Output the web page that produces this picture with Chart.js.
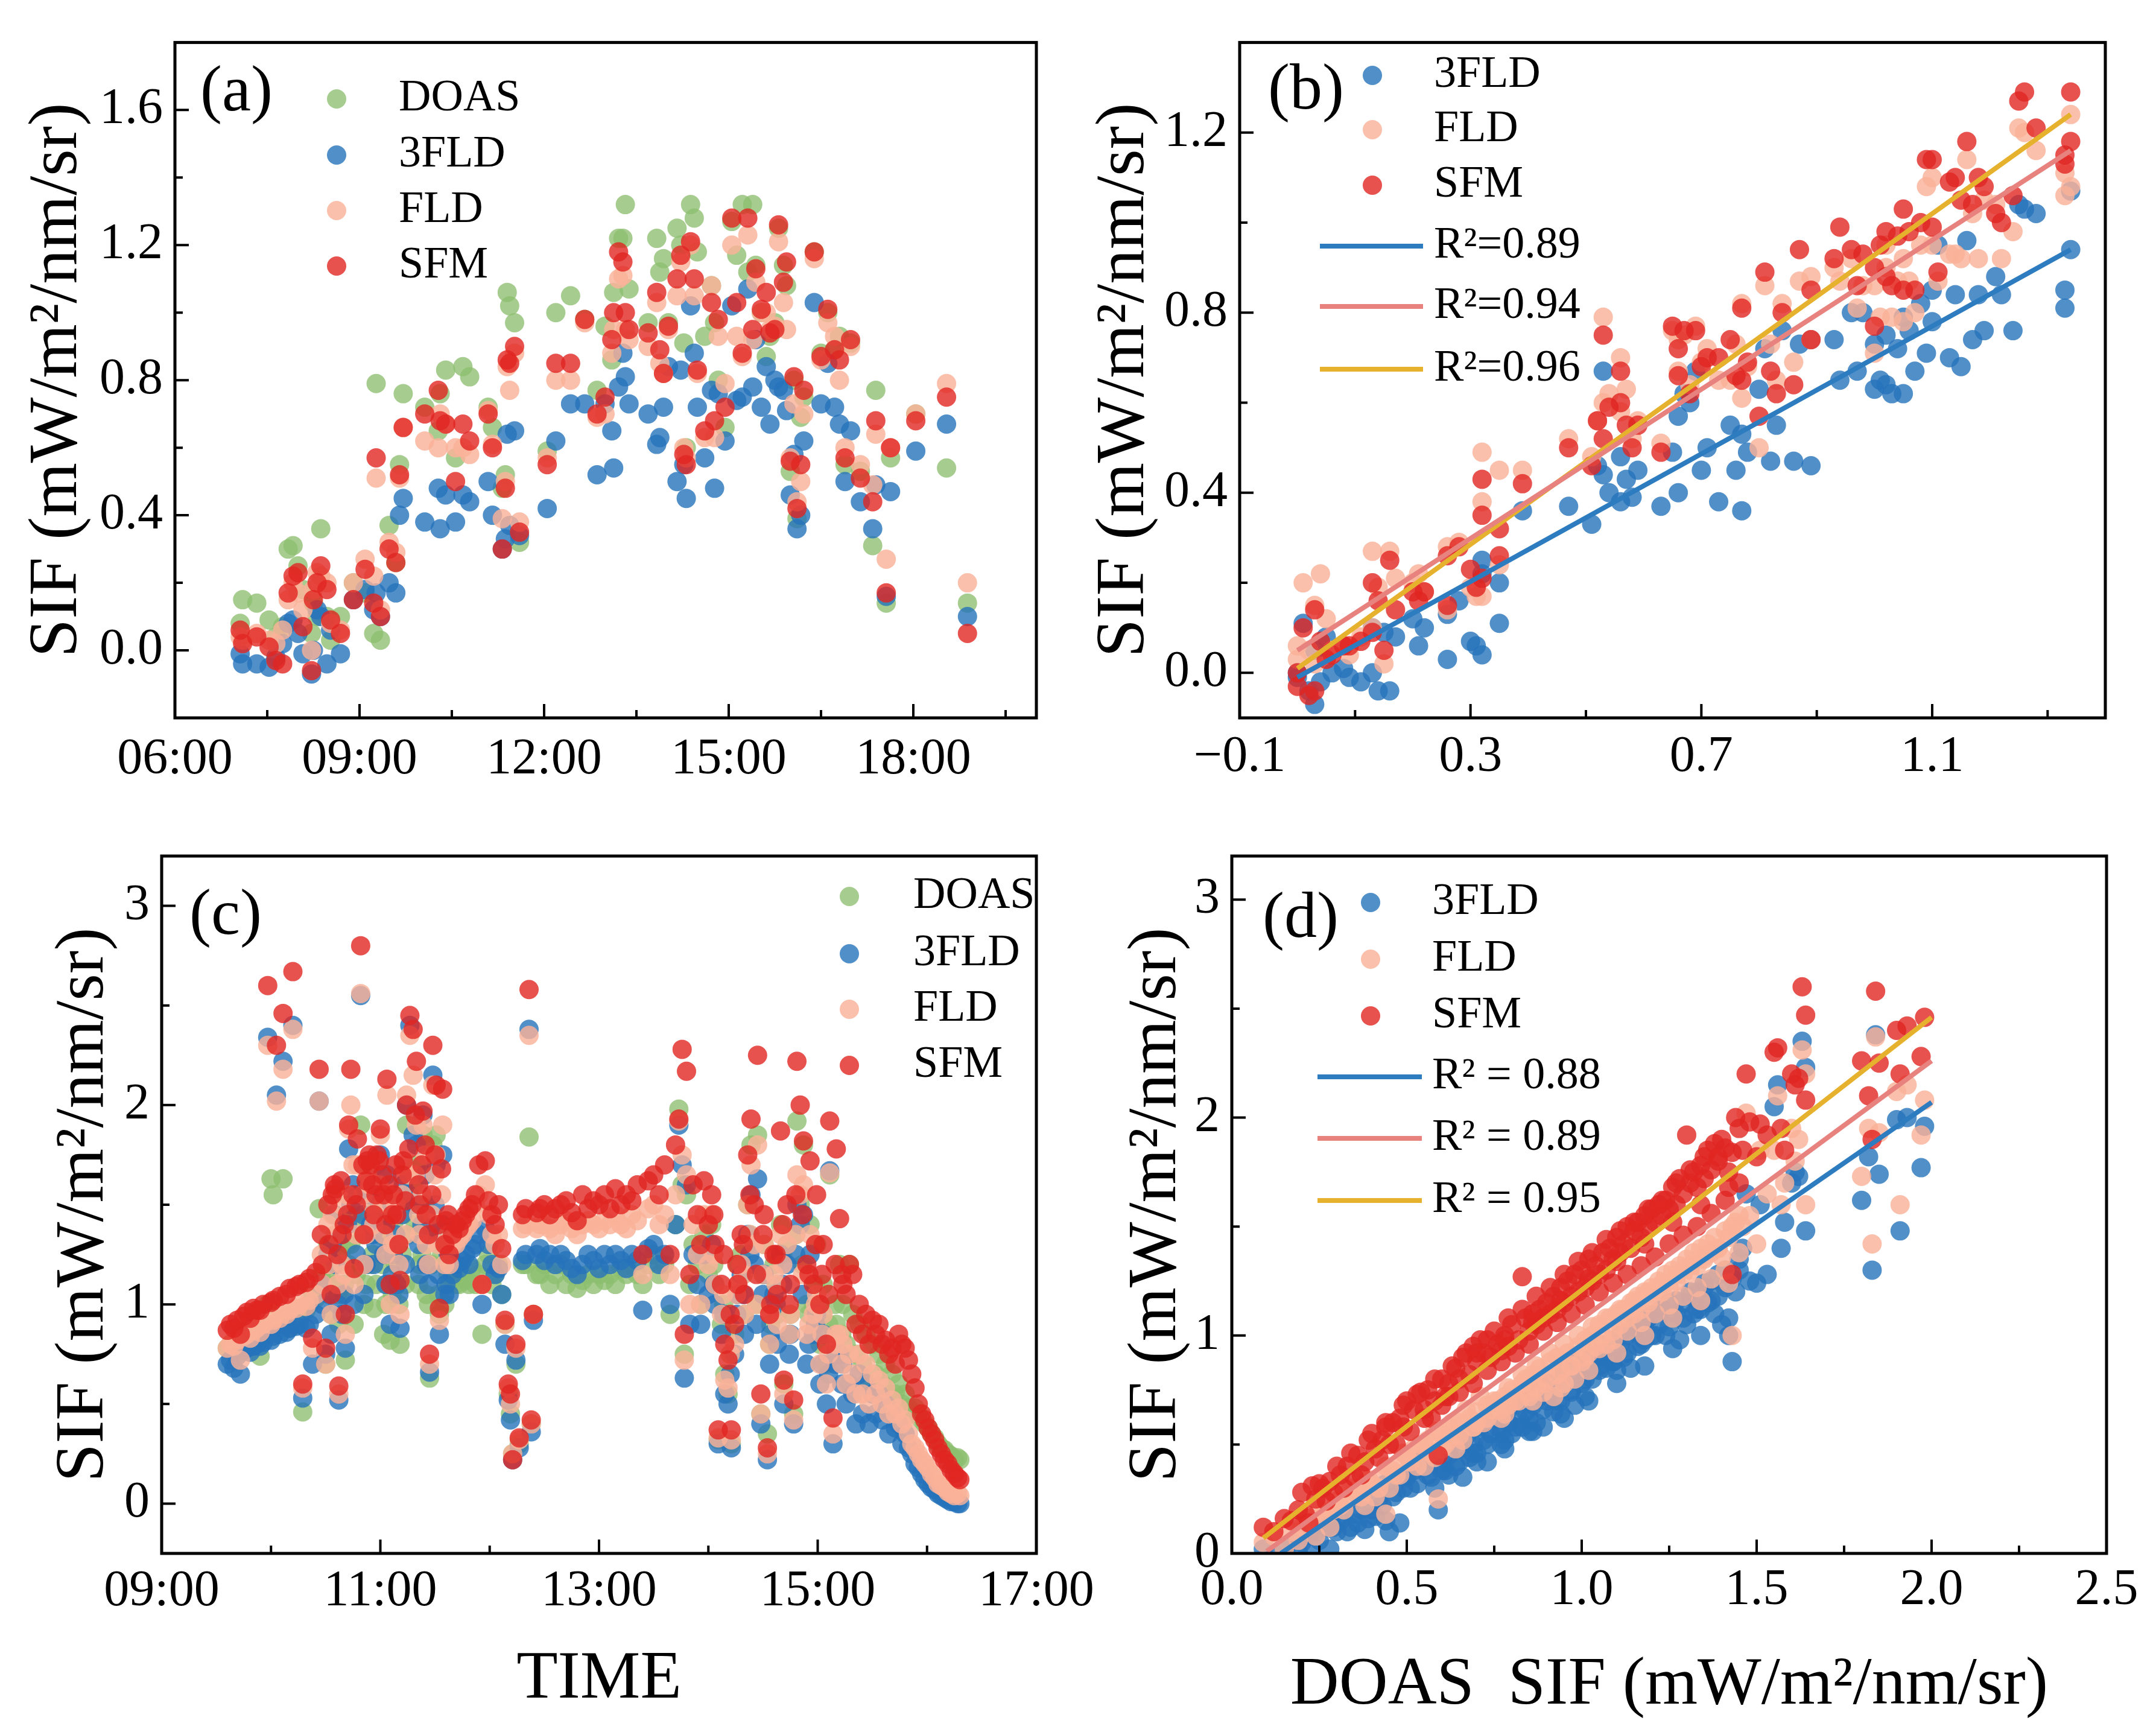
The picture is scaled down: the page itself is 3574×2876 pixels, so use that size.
<!DOCTYPE html>
<html lang="en">
<head>
<meta charset="utf-8">
<title>SIF retrieval comparison</title>
<script src="https://cdn.jsdelivr.net/npm/chart.js@4.4.1/dist/chart.umd.min.js"></script>
<style>
  html, body { margin: 0; padding: 0; background: #fff; }
  body { position: relative; width: 3574px; height: 2876px; overflow: hidden; }
  .panel { position: absolute; }
</style>
</head>
<body>
<div class="panel" style="left:0;top:0;width:1787px;height:1340px"><canvas id="chart-a"></canvas></div>
<div class="panel" style="left:1787px;top:0;width:1787px;height:1340px"><canvas id="chart-b"></canvas></div>
<div class="panel" style="left:0;top:1340px;width:1900px;height:1536px"><canvas id="chart-c"></canvas></div>
<div class="panel" style="left:1787px;top:1340px;width:1787px;height:1536px"><canvas id="chart-d"></canvas></div>
<script>
// (a) day 1 time series (decimal hours)
const timeA = [
  7.06, 7.10, 7.33, 7.53, 7.64, 7.75, 7.84, 7.92, 8.00, 8.08,
  8.22, 8.25, 8.31, 8.37, 8.47, 8.53, 8.69, 8.90, 9.09, 9.23,
  9.27, 9.34, 9.48, 9.59, 9.65, 9.71, 10.06, 10.28, 10.31, 10.40,
  10.56, 10.68, 10.79, 11.09, 11.16, 11.32, 11.37, 11.40, 11.44, 11.52,
  11.60, 12.05, 12.19, 12.43, 12.66, 12.86, 12.99, 13.10, 13.13, 13.21,
  13.28, 13.32, 13.38, 13.69, 13.83, 13.88, 13.94, 14.02, 14.16, 14.22,
  14.27, 14.31, 14.38, 14.44, 14.49, 14.61, 14.72, 14.77, 14.83, 14.94,
  15.05, 15.13, 15.22, 15.31, 15.39, 15.44, 15.53, 15.61, 15.67, 15.75,
  15.81, 15.89, 15.94, 16.00, 16.06, 16.11, 16.17, 16.22, 16.39, 16.50,
  16.61, 16.72, 16.80, 16.89, 16.98, 17.14, 17.34, 17.39, 17.56, 17.63,
  18.04, 18.54, 18.88
];
const doasA = [
  0.08, 0.15, 0.14, 0.09, 0.04, 0.07, 0.30, 0.31, 0.25, 0.18,
  0.05, 0.14, 0.10, 0.36, 0.10, 0.03, 0.10, 0.20, 0.17, 0.05,
  0.79, 0.03, 0.37, 0.26, 0.55, 0.76, 0.72, 0.65, 0.76, 0.83,
  0.57, 0.84, 0.81, 0.72, 0.66, 0.48, 0.52, 1.06, 1.02, 0.97,
  0.32, 0.59, 1.00, 1.05, 0.98, 0.77, 0.96, 0.86, 1.06, 1.22,
  1.22, 1.32, 1.07, 0.97, 1.22, 1.12, 1.16, 0.97, 1.25, 1.20,
  0.91, 0.60, 1.32, 1.28, 1.18, 0.93, 1.08, 0.97, 0.80, 0.66,
  1.27, 1.17, 1.32, 1.12, 1.32, 1.14, 1.00, 0.87, 0.93, 0.97,
  1.25, 1.14, 1.08, 0.53, 0.80, 0.39, 0.69, 0.75, 1.18, 0.88,
  1.00, 0.89, 0.93, 0.55, 0.91, 0.53, 0.31, 0.77, 0.14, 0.57,
  0.70, 0.54, 0.14
];
const fld3A = [
  -0.01, -0.04, -0.04, -0.05, -0.02, 0.02, 0.08, 0.09, 0.05, -0.01,
  -0.07, 0.00, 0.12, 0.10, -0.04, 0.06, -0.01, 0.15, 0.18, 0.12,
  0.17, 0.10, 0.20, 0.17, 0.40, 0.45, 0.38, 0.48, 0.36, 0.46,
  0.38, 0.46, 0.44, 0.50, 0.40, 0.30, 0.33, 0.64, 0.37, 0.65,
  0.34, 0.42, 0.62, 0.73, 0.73, 0.52, 0.73, 0.65, 0.54, 0.78,
  0.88, 0.81, 0.73, 0.70, 0.61, 0.63, 0.72, 0.84, 0.50, 0.83,
  0.55, 0.45, 1.02, 0.88, 0.72, 0.57, 0.77, 0.48, 0.76, 0.62,
  1.02, 0.74, 0.75, 1.07, 0.78, 0.92, 0.72, 0.84, 0.67, 0.80,
  0.78, 0.77, 0.71, 0.46, 0.58, 0.36, 0.40, 0.62, 1.03, 0.73,
  0.85, 0.72, 0.67, 0.50, 0.65, 0.44, 0.36, 0.49, 0.16, 0.47,
  0.59, 0.67, 0.10
];
const fldA = [
  0.04, 0.03, 0.05, 0.03, 0.02, 0.06, 0.15, 0.20, 0.17, 0.12,
  0.00, 0.18, 0.23, 0.22, 0.20, 0.08, 0.06, 0.20, 0.27, 0.22,
  0.51, 0.12, 0.32, 0.29, 0.51, 0.66, 0.62, 0.60, 0.70, 0.67,
  0.60, 0.60, 0.58, 0.71, 0.61, 0.39, 0.50, 0.84, 0.77, 0.88,
  0.38, 0.57, 0.80, 0.80, 0.97, 0.69, 0.70, 0.88, 0.95, 1.10,
  1.11, 0.95, 0.92, 0.90, 1.03, 0.85, 0.82, 0.95, 1.05, 1.15,
  0.60, 0.57, 1.20, 1.05, 0.82, 0.63, 1.08, 0.63, 0.93, 0.79,
  1.20, 0.93, 0.87, 1.23, 0.92, 1.09, 1.00, 1.00, 0.95, 0.96,
  1.21, 1.03, 0.95, 0.57, 0.73, 0.44, 0.50, 0.70, 1.16, 0.86,
  0.97, 0.93, 0.80, 0.60, 0.90, 0.55, 0.49, 0.64, 0.27, 0.60,
  0.70, 0.79, 0.20
];
const sfmA = [
  0.06, 0.02, 0.04, 0.01, -0.03, -0.04, 0.17, 0.22, 0.23, 0.07,
  -0.06, 0.15, 0.20, 0.25, 0.18, 0.09, 0.05, 0.15, 0.24, 0.14,
  0.57, 0.10, 0.30, 0.26, 0.52, 0.66, 0.70, 0.77, 0.68, 0.67,
  0.50, 0.67, 0.62, 0.70, 0.60, 0.30, 0.48, 0.86, 0.85, 0.90,
  0.35, 0.55, 0.85, 0.85, 0.98, 0.70, 0.75, 0.92, 1.00, 1.18,
  1.15, 1.00, 0.95, 0.94, 1.06, 0.89, 0.82, 0.96, 1.10, 1.17,
  0.58, 0.55, 1.21, 1.10, 0.83, 0.65, 1.03, 0.68, 0.98, 0.72,
  1.28, 1.03, 0.88, 1.28, 0.95, 1.13, 1.01, 1.06, 0.94, 0.95,
  1.26, 1.09, 1.15, 0.56, 0.81, 0.42, 0.55, 0.77, 1.18, 0.87,
  1.01, 0.89, 0.86, 0.57, 0.92, 0.51, 0.44, 0.68, 0.17, 0.60,
  0.68, 0.75, 0.05
];

// (b) day 1 scatter against DOAS
const doasB = [
  0.00, 0.00, 0.01, 0.02, 0.03, 0.03, 0.04, 0.05, 0.06, 0.08,
  0.09, 0.11, 0.13, 0.13, 0.14, 0.15, 0.16, 0.17, 0.20, 0.21,
  0.22, 0.26, 0.26, 0.28, 0.30, 0.31, 0.32, 0.32, 0.32, 0.35,
  0.35, 0.39, 0.47, 0.51, 0.52, 0.53, 0.53, 0.54, 0.56, 0.56,
  0.57, 0.58, 0.59, 0.63, 0.65, 0.66, 0.66, 0.67, 0.68, 0.69,
  0.70, 0.71, 0.73, 0.75, 0.76, 0.77, 0.77, 0.78, 0.80, 0.81,
  0.82, 0.83, 0.84, 0.86, 0.87, 0.89, 0.89, 0.93, 0.94, 0.96,
  0.97, 0.98, 1.00, 1.00, 1.01, 1.02, 1.02, 1.03, 1.04, 1.05,
  1.05, 1.06, 1.07, 1.08, 1.09, 1.10, 1.10, 1.11, 1.13, 1.14,
  1.15, 1.16, 1.17, 1.18, 1.19, 1.21, 1.22, 1.24, 1.25, 1.26,
  1.28, 1.33, 1.33, 1.34, 1.34
];
const fld3B = [
  -0.01, 0.00, 0.11, -0.04, -0.07, 0.05, -0.02, 0.08, 0.00, 0.01,
  -0.01, -0.02, 0.00, 0.10, -0.04, 0.09, -0.04, 0.08, 0.12, 0.06,
  0.10, 0.13, 0.03, 0.16, 0.07, 0.06, 0.04, 0.22, 0.25, 0.20,
  0.11, 0.36, 0.37, 0.33, 0.46, 0.67, 0.44, 0.40, 0.48, 0.38,
  0.43, 0.39, 0.45, 0.37, 0.49, 0.40, 0.57, 0.62, 0.60, 0.67,
  0.45, 0.50, 0.38, 0.55, 0.45, 0.53, 0.36, 0.49, 0.63, 0.72,
  0.47, 0.55, 0.76, 0.47, 0.73, 0.46, 0.74, 0.74, 0.65, 0.80,
  0.67, 0.80, 0.63, 0.73, 0.65, 0.64, 0.75, 0.62, 0.72, 0.79,
  0.62, 0.76, 0.67, 0.82, 0.71, 0.78, 0.85, 0.95, 0.70, 0.84,
  0.68, 0.96, 0.74, 0.84, 0.76, 0.88, 0.84, 0.76, 1.04, 1.03,
  1.02, 0.81, 0.85, 0.94, 1.07
];
const fldB = [
  0.03, 0.06, 0.20, 0.05, 0.02, 0.15, 0.22, 0.12, 0.05, 0.06,
  0.04, 0.08, 0.10, 0.27, 0.19, 0.02, 0.27, 0.21, 0.20, 0.22,
  0.18, 0.28, 0.14, 0.29, 0.19, 0.17, 0.49, 0.38, 0.17, 0.45,
  0.24, 0.45, 0.52, 0.48, 0.56, 0.79, 0.60, 0.62, 0.70, 0.58,
  0.63, 0.52, 0.56, 0.51, 0.76, 0.74, 0.67, 0.75, 0.64, 0.77,
  0.69, 0.72, 0.65, 0.65, 0.73, 0.82, 0.61, 0.68, 0.50, 0.86,
  0.73, 0.65, 0.82, 0.69, 0.87, 0.74, 0.88, 0.90, 0.87, 0.92,
  0.81, 0.86, 0.71, 0.86, 0.79, 0.95, 0.90, 0.79, 0.87, 0.92,
  0.78, 0.87, 0.80, 0.95, 1.08, 1.10, 0.95, 0.87, 0.93, 0.93,
  0.92, 1.14, 1.02, 0.92, 1.05, 1.04, 0.92, 0.98, 1.21, 1.20,
  1.16, 1.06, 1.11, 1.24, 1.08
];
const sfmB = [
  0.00, -0.03, 0.10, -0.05, -0.04, 0.14, 0.07, 0.03, 0.04, 0.06,
  0.06, 0.07, 0.09, 0.20, 0.16, 0.05, 0.25, 0.14, 0.18, 0.16,
  0.18, 0.26, 0.15, 0.28, 0.23, 0.19, 0.35, 0.43, 0.21, 0.26,
  0.32, 0.42, 0.50, 0.46, 0.56, 0.75, 0.52, 0.59, 0.67, 0.60,
  0.55, 0.50, 0.55, 0.49, 0.77, 0.72, 0.66, 0.76, 0.62, 0.76,
  0.68, 0.70, 0.70, 0.74, 0.66, 0.81, 0.65, 0.69, 0.57, 0.89,
  0.67, 0.62, 0.80, 0.64, 0.94, 0.74, 0.85, 0.92, 0.99, 0.94,
  0.86, 0.93, 0.77, 0.90, 0.95, 0.98, 0.88, 0.86, 0.97, 1.03,
  0.85, 0.98, 0.85, 1.00, 1.14, 1.14, 0.99, 0.89, 1.09, 1.10,
  1.05, 1.18, 1.04, 1.10, 1.08, 1.02, 1.00, 1.06, 1.27, 1.29,
  1.21, 1.13, 1.15, 1.29, 1.18
];
// fitted lines (end points) and R²
const fitXB = [0.0, 1.34];
const fit3FLDB = [-0.01, 0.94];
const fitFLDB = [0.05, 1.16];
const fitSFMB = [0.01, 1.24];
const r2B = ['R²=0.89', 'R²=0.94', 'R²=0.96'];

// (c) day 2 time series
const timeC = [
  9.60, 9.63, 9.66, 9.69, 9.72, 9.75, 9.78, 9.81, 9.84, 9.87,
  9.90, 9.93, 9.97, 10.00, 10.02, 10.05, 10.08, 10.11, 10.14, 10.17,
  10.20, 10.23, 10.26, 10.29, 10.32, 10.35, 10.38, 10.41, 10.44, 10.47,
  10.50, 10.53, 10.56, 10.59, 10.62, 10.65, 10.68, 10.71, 10.73, 10.76,
  10.79, 10.82, 10.85, 10.88, 10.91, 10.94, 10.97, 11.00, 11.03, 11.06,
  11.09, 11.12, 11.15, 11.18, 11.21, 11.24, 11.27, 11.30, 11.33, 11.36,
  11.39, 11.42, 11.45, 11.48, 11.51, 11.54, 11.57, 11.60, 11.63, 11.66,
  11.69, 11.72, 11.75, 11.78, 11.81, 11.84, 11.87, 11.90, 11.93, 11.96,
  11.99, 12.02, 12.05, 12.08, 12.11, 12.14, 12.17, 12.19, 12.21, 12.24,
  12.27, 12.30, 12.33, 12.36, 12.38, 12.40, 12.43, 12.46, 12.50, 12.55,
  12.60, 12.65, 12.70, 12.75, 12.80, 12.85, 12.90, 12.95, 13.00, 13.05,
  13.10, 13.15, 13.20, 13.25, 13.30, 13.35, 13.40, 13.45, 13.50, 13.55,
  13.60, 13.65, 13.70, 13.73, 13.76, 13.78, 13.80, 13.83, 13.86, 13.90,
  13.93, 13.96, 14.00, 14.03, 14.06, 14.09, 14.12, 14.15, 14.18, 14.21,
  14.24, 14.27, 14.30, 14.33, 14.36, 14.39, 14.42, 14.45, 14.48, 14.51,
  14.54, 14.57, 14.60, 14.63, 14.66, 14.69, 14.72, 14.75, 14.78, 14.81,
  14.84, 14.87, 14.90, 14.93, 14.96, 14.99, 15.02, 15.05, 15.08, 15.11,
  15.14, 15.17, 15.20, 15.23, 15.26, 15.29, 15.32, 15.35, 15.38, 15.41,
  15.44, 15.47, 15.50, 15.53, 15.56, 15.59, 15.62, 15.65, 15.68, 15.71,
  15.74, 15.77, 15.80, 15.83, 15.86, 15.89, 15.92, 15.95, 15.98, 16.01,
  16.04, 16.07, 16.10, 16.13, 16.16, 16.19, 16.22, 16.25, 16.28, 16.30,
  10.46, 10.52, 10.55, 10.58, 10.61, 10.64, 10.67, 10.70, 10.75, 10.78,
  10.84, 10.87, 10.90, 10.93, 10.96, 10.99, 11.02, 11.05, 11.08, 11.11,
  11.14, 11.17, 11.20, 11.23, 11.26, 11.32, 11.35, 11.38, 11.41, 11.44,
  11.47, 11.50, 11.53, 11.56, 11.59, 11.62, 14.05, 14.14, 14.20, 14.26,
  14.32, 14.38, 14.44, 14.50, 14.56, 14.62, 14.68, 14.74, 14.80, 14.86,
  14.92, 14.98, 15.04, 15.10, 15.16, 15.22
];
const doasC = [
  0.78, 0.80, 0.79, 0.82, 0.76, 0.84, 0.86, 0.83, 0.88, 0.85,
  0.74, 0.87, 1.00, 1.63, 1.55, 0.90, 0.92, 1.63, 0.93, 0.88,
  0.95, 0.96, 0.98, 0.46, 0.97, 1.00, 1.05, 1.03, 1.48, 1.10,
  0.70, 1.15, 1.20, 1.10, 0.90, 1.05, 0.72, 1.20, 1.30, 0.90,
  1.40, 1.90, 1.00, 1.60, 1.20, 0.98, 1.50, 1.55, 0.85, 1.10,
  0.82, 1.40, 1.30, 0.80, 1.45, 1.90, 1.50, 1.60, 1.70, 1.20,
  1.85, 1.05, 0.63, 1.80, 1.85, 0.95, 1.40, 1.20, 1.10, 1.15,
  1.10, 1.10, 1.15, 1.12, 1.10, 1.18, 1.10, 1.15, 0.85, 1.20,
  1.25, 1.10, 1.15, 1.20, 1.05, 0.90, 0.55, 0.45, 0.25, 0.70,
  0.30, 1.20, 1.20, 1.84, 0.40, 0.95, 1.15, 1.15, 1.20, 1.10,
  1.15, 1.20, 1.10, 1.15, 1.08, 1.12, 1.15, 1.10, 1.15, 1.12,
  1.15, 1.10, 1.18, 1.15, 1.20, 1.15, 1.10, 1.20, 1.25, 1.15,
  1.20, 0.95, 1.40, 1.98, 1.60, 0.75, 1.55, 1.10, 1.30, 1.20,
  1.00, 1.35, 1.15, 1.40, 1.10, 0.32, 0.90, 0.65, 0.55, 0.30,
  0.85, 1.20, 1.25, 0.95, 1.50, 1.80, 1.30, 1.85, 0.45, 1.30,
  0.35, 0.90, 1.20, 0.95, 1.40, 0.60, 1.30, 0.95, 0.45, 1.92,
  1.50, 1.80, 1.00, 1.40, 1.00, 1.30, 0.80, 1.10, 0.70, 1.65,
  0.85, 0.90, 1.20, 1.00, 0.80, 1.20, 0.95, 0.75, 0.90, 0.70,
  0.85, 0.60, 0.80, 0.65, 0.75, 0.60, 0.70, 0.55, 0.65, 0.55,
  0.60, 0.50, 0.55, 0.48, 0.45, 0.48, 0.45, 0.42, 0.40, 0.38,
  0.35, 0.33, 0.30, 0.28, 0.27, 0.25, 0.24, 0.22, 0.23, 0.22,
  1.15, 1.30, 0.95, 1.45, 1.05, 1.25, 1.10, 1.30, 1.45, 1.15,
  1.35, 1.10, 1.45, 1.25, 1.10, 1.35, 1.20, 1.00, 1.30, 1.05,
  1.20, 1.00, 1.25, 1.10, 1.35, 1.40, 1.10, 1.25, 1.50, 1.00,
  1.20, 1.35, 1.05, 1.25, 1.00, 1.15, 1.20, 1.00, 0.75, 1.05,
  1.15, 1.35, 1.00, 1.15, 0.80, 1.10, 1.25, 0.85, 1.35, 1.20,
  0.95, 1.10, 0.95, 0.90, 1.00, 0.85
];
const fld3C = [
  0.70, 0.72, 0.68, 0.74, 0.65, 0.77, 0.78, 0.76, 0.79, 0.80,
  0.79, 0.81, 2.34, 0.82, 0.84, 2.05, 0.85, 2.22, 0.86, 0.88,
  2.40, 0.89, 0.90, 0.53, 0.88, 0.90, 0.70, 0.95, 2.02, 1.00,
  0.75, 1.05, 1.30, 1.20, 0.52, 0.95, 0.78, 1.78, 1.50, 1.00,
  1.55, 2.55, 1.05, 1.55, 1.40, 1.20, 1.70, 1.75, 1.25, 1.65,
  0.90, 1.25, 1.10, 0.88, 1.60, 2.00, 2.40, 1.85, 1.80, 1.15,
  1.95, 1.20, 0.66, 2.15, 1.70, 0.85, 1.75, 1.10, 1.05, 1.15,
  1.20, 1.18, 1.22, 1.25, 1.20, 1.28, 1.30, 1.35, 1.00, 1.38,
  1.30, 1.20, 1.15, 1.18, 1.05, 0.80, 0.52, 0.42, 0.22, 0.72,
  0.28, 1.22, 1.25, 2.38, 0.36, 0.92, 1.25, 1.28, 1.22, 1.25,
  1.20, 1.25, 1.22, 1.18, 1.15, 1.20, 1.25, 1.22, 1.18, 1.25,
  1.20, 1.25, 1.22, 1.18, 1.25, 1.22, 0.97, 1.28, 1.30, 1.20,
  1.25, 1.00, 1.40, 1.90, 1.70, 0.63, 1.60, 0.90, 1.25, 1.10,
  0.90, 1.25, 1.05, 1.30, 1.00, 0.30, 0.85, 0.55, 0.50, 0.28,
  0.75, 1.05, 1.15, 0.85, 1.35, 1.55, 1.20, 1.63, 0.40, 1.15,
  0.22, 0.85, 1.05, 0.80, 1.25, 0.50, 1.20, 0.85, 0.40, 1.50,
  1.40, 1.45, 0.70, 1.25, 0.85, 0.95, 0.60, 0.85, 0.50, 1.67,
  0.30, 0.75, 0.75, 0.70, 0.50, 0.60, 0.55, 0.40, 0.65, 0.45,
  0.60, 0.40, 0.55, 0.45, 0.55, 0.42, 0.50, 0.35, 0.45, 0.38,
  0.40, 0.30, 0.35, 0.28, 0.25, 0.20, 0.18, 0.15, 0.12, 0.10,
  0.08, 0.07, 0.05, 0.04, 0.03, 0.02, 0.01, 0.01, 0.00, 0.00,
  1.10, 1.25, 0.85, 1.45, 1.00, 1.35, 1.05, 1.40, 1.60, 1.25,
  1.45, 1.20, 1.55, 1.35, 1.30, 1.50, 1.40, 1.10, 1.45, 1.15,
  1.35, 1.05, 1.45, 1.20, 1.55, 1.50, 1.30, 1.40, 1.65, 1.10,
  1.35, 1.50, 1.15, 1.40, 1.05, 1.25, 1.10, 0.95, 0.65, 0.95,
  1.05, 1.25, 0.90, 1.05, 0.70, 1.00, 1.10, 0.75, 1.25, 1.05,
  0.80, 0.90, 0.70, 0.65, 0.70, 0.60
];
const fldC = [
  0.78, 0.80, 0.79, 0.82, 0.72, 0.84, 0.85, 0.83, 0.87, 0.88,
  0.86, 0.90, 2.30, 0.90, 0.92, 2.02, 0.93, 2.18, 0.95, 0.97,
  2.38, 0.98, 1.00, 0.58, 0.99, 1.02, 0.78, 1.05, 2.02, 1.10,
  0.70, 1.20, 1.45, 1.35, 0.55, 1.20, 0.85, 1.88, 2.00, 1.10,
  1.70, 2.56, 1.20, 1.65, 1.60, 1.40, 1.72, 1.85, 1.35, 2.05,
  1.00, 1.45, 1.30, 0.95, 1.70, 2.05, 2.35, 2.15, 1.90, 1.35,
  1.90, 1.30, 0.70, 2.10, 1.75, 0.92, 1.90, 1.30, 1.20, 1.30,
  1.30, 1.33, 1.35, 1.38, 1.40, 1.42, 1.50, 1.55, 1.10, 1.60,
  1.45, 1.35, 1.30, 1.35, 1.20, 0.90, 0.58, 0.50, 0.25, 0.78,
  0.32, 1.38, 1.40, 2.35, 0.40, 0.95, 1.38, 1.40, 1.40, 1.38,
  1.35, 1.40, 1.42, 1.38, 1.35, 1.40, 1.42, 1.40, 1.38, 1.42,
  1.40, 1.45, 1.40, 1.38, 1.45, 1.42, 1.15, 1.48, 1.50, 1.40,
  1.45, 1.15, 1.55, 1.92, 1.75, 0.72, 1.65, 1.00, 1.40, 1.25,
  1.00, 1.45, 1.20, 1.45, 1.10, 0.33, 0.95, 0.62, 0.58, 0.32,
  0.80, 1.10, 1.20, 0.95, 1.50, 1.70, 1.30, 1.80, 0.45, 1.30,
  0.25, 0.95, 1.15, 0.90, 1.35, 0.55, 1.30, 0.95, 0.42, 1.65,
  1.55, 1.60, 0.85, 1.35, 0.95, 1.05, 0.70, 0.95, 0.60, 1.66,
  0.35, 0.85, 0.85, 0.80, 0.60, 0.75, 0.65, 0.55, 0.75, 0.55,
  0.70, 0.50, 0.65, 0.55, 0.62, 0.50, 0.58, 0.45, 0.52, 0.45,
  0.48, 0.40, 0.42, 0.35, 0.30, 0.28, 0.25, 0.22, 0.20, 0.18,
  0.15, 0.13, 0.10, 0.09, 0.08, 0.06, 0.05, 0.04, 0.05, 0.04,
  1.25, 1.40, 0.95, 1.55, 1.10, 1.50, 1.15, 1.55, 1.70, 1.35,
  1.55, 1.35, 1.60, 1.50, 1.45, 1.60, 1.50, 1.25, 1.55, 1.30,
  1.50, 1.20, 1.55, 1.35, 1.65, 1.65, 1.45, 1.55, 1.75, 1.20,
  1.45, 1.65, 1.30, 1.55, 1.20, 1.35, 1.25, 1.05, 0.75, 1.05,
  1.15, 1.35, 1.00, 1.15, 0.80, 1.10, 1.20, 0.85, 1.35, 1.15,
  0.90, 1.00, 0.85, 0.75, 0.80, 0.70
];
const sfmC = [
  0.87, 0.90, 0.88, 0.92, 0.85, 0.94, 0.96, 0.93, 0.98, 0.97,
  0.97, 1.00, 2.60, 1.01, 1.02, 2.30, 1.04, 2.46, 1.05, 1.08,
  2.67, 1.09, 1.10, 0.60, 1.11, 1.13, 0.83, 1.16, 2.18, 1.20,
  0.78, 1.30, 1.55, 1.58, 0.59, 1.35, 0.95, 1.90, 2.18, 1.18,
  1.83, 2.80, 1.35, 1.72, 1.70, 1.45, 1.75, 1.88, 1.55, 2.13,
  1.10, 1.55, 1.45, 1.12, 1.72, 2.00, 2.45, 2.38, 2.22, 1.50,
  1.97, 1.45, 0.75, 2.30, 2.10, 0.98, 2.08, 1.42, 1.25, 1.35,
  1.40, 1.38, 1.42, 1.45, 1.48, 1.50, 1.55, 1.70, 1.10, 1.72,
  1.52, 1.45, 1.40, 1.50, 1.28, 0.92, 0.60, 0.55, 0.22, 0.80,
  0.33, 1.45, 1.48, 2.58, 0.42, 0.95, 1.46, 1.48, 1.50, 1.45,
  1.48, 1.50, 1.52, 1.46, 1.42, 1.55, 1.48, 1.52, 1.50, 1.55,
  1.48, 1.58, 1.50, 1.55, 1.52, 1.60, 1.25, 1.62, 1.65, 1.55,
  1.70, 1.25, 1.80, 1.93, 2.28, 0.85, 2.17, 1.15, 1.60, 1.45,
  1.30, 1.62, 1.40, 1.55, 1.30, 0.37, 1.10, 0.80, 0.72, 0.37,
  0.90, 1.10, 1.35, 1.05, 1.75, 1.93, 1.50, 2.25, 0.55, 1.45,
  0.28, 1.00, 1.25, 1.05, 1.87, 0.62, 1.50, 1.10, 0.52, 2.22,
  2.00, 1.82, 1.20, 1.72, 1.10, 1.55, 1.00, 1.30, 0.80, 1.92,
  0.43, 1.78, 1.43, 1.10, 1.05, 1.20, 1.15, 0.90, 1.00, 0.85,
  0.95, 0.80, 0.92, 0.85, 0.90, 0.80, 0.82, 0.75, 0.78, 0.70,
  0.85, 0.80, 0.78, 0.72, 0.65, 0.58, 0.50, 0.45, 0.42, 0.38,
  0.35, 0.32, 0.28, 0.25, 0.22, 0.20, 0.17, 0.15, 0.13, 0.12,
  1.35, 1.50, 1.05, 1.60, 1.25, 1.62, 1.40, 1.45, 1.55, 1.50,
  1.70, 1.62, 1.75, 1.60, 1.55, 1.72, 1.65, 1.40, 1.60, 1.45,
  1.70, 1.30, 1.65, 1.52, 1.78, 1.95, 1.60, 1.70, 1.80, 1.35,
  1.55, 1.75, 1.40, 1.68, 1.30, 1.45, 1.45, 1.25, 0.95, 1.20,
  1.30, 1.55, 1.15, 1.35, 0.95, 1.25, 1.40, 1.00, 1.55, 1.45,
  1.15, 1.30, 1.15, 1.05, 1.20, 1.15
];

// (d) day 2 scatter against DOAS
const doasD = [
  0.09, 0.12, 0.15, 0.17, 0.19, 0.21, 0.23, 0.24, 0.26, 0.28,
  0.29, 0.31, 0.33, 0.35, 0.36, 0.38, 0.40, 0.41, 0.43, 0.44,
  0.45, 0.46, 0.48, 0.49, 0.50, 0.52, 0.53, 0.55, 0.56, 0.58,
  0.59, 0.60, 0.61, 0.62, 0.64, 0.65, 0.66, 0.68, 0.69, 0.70,
  0.72, 0.73, 0.74, 0.76, 0.77, 0.78, 0.79, 0.80, 0.82, 0.83,
  0.84, 0.85, 0.86, 0.87, 0.88, 0.89, 0.90, 0.91, 0.92, 0.93,
  0.94, 0.95, 0.96, 0.97, 0.98, 0.99, 1.00, 1.01, 1.02, 1.03,
  1.04, 1.05, 1.06, 1.07, 1.08, 1.09, 1.10, 1.11, 1.12, 1.13,
  1.14, 1.15, 1.16, 1.17, 1.18, 1.19, 1.20, 1.21, 1.22, 1.23,
  1.24, 1.25, 1.26, 1.27, 1.28, 1.29, 1.30, 1.31, 1.32, 1.33,
  1.34, 1.35, 1.36, 1.37, 1.38, 1.39, 1.40, 1.41, 1.42, 1.43,
  1.44, 1.45, 1.46, 1.47, 1.48, 1.50, 1.51, 1.53, 1.55, 1.56,
  1.57, 1.58, 1.60, 1.61, 1.62, 1.63, 1.64, 1.64, 1.80, 1.82,
  1.83, 1.84, 1.85, 1.90, 1.91, 1.93, 1.97, 1.98,
  0.20, 0.22, 0.25, 0.27, 0.30, 0.32, 0.34, 0.37, 0.39, 0.42,
  0.44, 0.47, 0.49, 0.51, 0.54, 0.57, 0.58, 0.60, 0.63, 0.65,
  0.67, 0.69, 0.71, 0.73, 0.75, 0.77, 0.79, 0.81, 0.83, 0.85,
  0.87, 0.89, 0.91, 0.93, 0.95, 0.97, 0.99, 1.01, 1.03, 1.05,
  1.07, 1.09, 1.11, 1.13, 1.15, 1.17, 1.19, 1.21, 1.23, 1.25,
  1.27, 1.29, 1.31, 1.33, 1.35, 1.37, 1.39, 1.41, 1.43, 1.45,
  0.55, 0.62, 0.70, 0.78, 0.86, 0.94, 1.02, 1.10, 1.18, 1.26,
  1.34, 1.42
];
const fld3D = [
  0.02, 0.00, 0.03, 0.05, 0.01, 0.08, 0.03, 0.10, 0.14, 0.02,
  0.12, 0.15, 0.10, 0.18, 0.14, 0.11, 0.20, 0.17, 0.22, 0.15,
  0.10, 0.26, 0.14, 0.30, 0.35, 0.38, 0.32, 0.40, 0.36, 0.30,
  0.20, 0.42, 0.38, 0.45, 0.40, 0.48, 0.35, 0.44, 0.50, 0.46,
  0.52, 0.42, 0.55, 0.58, 0.50, 0.52, 0.60, 0.55, 0.62, 0.58,
  0.65, 0.56, 0.68, 0.60, 0.72, 0.58, 0.70, 0.74, 0.65, 0.78,
  0.70, 0.62, 0.80, 0.75, 0.68, 0.82, 0.78, 0.72, 0.85, 0.80,
  0.90, 0.86, 0.92, 0.85, 0.95, 0.88, 0.84, 0.96, 0.90, 1.00,
  0.85, 1.02, 0.95, 1.05, 0.98, 1.08, 1.00, 1.10, 1.05, 1.12,
  1.00, 1.15, 1.08, 1.10, 0.98, 1.15, 1.05, 1.18, 1.10, 1.20,
  1.12, 1.22, 1.15, 1.25, 1.10, 1.28, 1.05, 1.30, 1.00, 0.88,
  1.20, 1.35, 1.40, 1.65, 1.25, 1.24, 1.60, 1.28, 2.05, 2.15,
  1.40, 1.52, 1.70, 1.75, 1.73, 2.35, 2.23, 1.48, 1.62, 1.82,
  1.30, 2.38, 1.74, 1.99, 1.48, 2.00, 1.77, 1.96,
  0.05, 0.09, 0.06, 0.12, 0.10, 0.18, 0.12, 0.20, 0.16, 0.25,
  0.32, 0.28, 0.36, 0.30, 0.40, 0.35, 0.45, 0.38, 0.50, 0.42,
  0.54, 0.46, 0.58, 0.50, 0.62, 0.55, 0.66, 0.58, 0.70, 0.62,
  0.74, 0.66, 0.78, 0.70, 0.84, 0.74, 0.88, 0.80, 0.92, 0.84,
  0.96, 0.88, 1.00, 0.92, 1.04, 0.96, 1.08, 1.00, 1.12, 1.04,
  1.16, 1.08, 1.20, 1.12, 1.24, 1.16, 1.18, 1.22, 1.26, 1.30,
  0.44, 0.36, 0.42, 0.48, 0.56, 0.64, 0.70, 0.78, 0.86, 0.94,
  1.00, 1.08
];
const fldD = [
  0.05, 0.08, 0.02, 0.10, 0.06, 0.12, 0.15, 0.08, 0.18, 0.12,
  0.20, 0.22, 0.25, 0.28, 0.30, 0.22, 0.32, 0.26, 0.35, 0.18,
  0.30, 0.38, 0.36, 0.42, 0.45, 0.48, 0.40, 0.50, 0.52, 0.44,
  0.25, 0.55, 0.50, 0.58, 0.48, 0.60, 0.52, 0.62, 0.58, 0.65,
  0.60, 0.68, 0.66, 0.70, 0.62, 0.72, 0.68, 0.75, 0.70, 0.78,
  0.80, 0.72, 0.82, 0.76, 0.85, 0.74, 0.80, 0.88, 0.72, 0.90,
  0.84, 0.78, 0.92, 0.86, 0.80, 0.95, 0.88, 0.98, 0.92, 1.00,
  0.95, 1.05, 1.00, 0.96, 1.08, 1.02, 1.10, 1.05, 1.12, 1.08,
  1.15, 1.10, 1.18, 1.12, 1.20, 1.15, 1.22, 1.18, 1.25, 1.20,
  1.28, 1.22, 1.30, 1.25, 1.32, 1.28, 1.35, 1.30, 1.38, 1.32,
  1.40, 1.35, 1.42, 1.38, 1.45, 1.40, 1.36, 1.48, 1.45, 1.00,
  1.52, 1.55, 1.50, 2.02, 1.55, 1.42, 1.85, 1.65, 1.85, 2.10,
  1.60, 1.70, 1.95, 1.80, 1.90, 2.31, 2.20, 1.60, 1.73, 1.95,
  1.42, 2.37, 1.93, 2.12, 1.60, 2.15, 1.92, 2.08,
  0.12, 0.16, 0.20, 0.18, 0.24, 0.20, 0.30, 0.26, 0.34, 0.30,
  0.40, 0.36, 0.46, 0.42, 0.50, 0.46, 0.56, 0.48, 0.60, 0.54,
  0.66, 0.58, 0.72, 0.62, 0.70, 0.66, 0.76, 0.70, 0.82, 0.74,
  0.86, 0.78, 0.92, 0.82, 0.96, 0.86, 1.00, 0.90, 1.04, 0.94,
  1.08, 0.98, 1.12, 1.02, 1.16, 1.06, 1.20, 1.10, 1.24, 1.14,
  1.28, 1.18, 1.32, 1.22, 1.36, 1.26, 1.40, 1.30, 1.50, 1.38,
  0.40, 0.52, 0.60, 0.64, 0.70, 0.76, 0.84, 0.92, 1.00, 1.08,
  1.16, 1.24
];
const sfmD = [
  0.12, 0.10, 0.16, 0.15, 0.20, 0.18, 0.31, 0.25, 0.30, 0.33,
  0.28, 0.36, 0.40, 0.35, 0.45, 0.42, 0.55, 0.48, 0.52, 0.58,
  0.50, 0.60, 0.62, 0.58, 0.70, 0.66, 0.73, 0.62, 0.75, 0.70,
  0.45, 0.80, 0.72, 0.78, 0.85, 0.80, 0.90, 0.82, 0.95, 0.88,
  0.92, 0.98, 0.90, 0.96, 0.93, 1.00, 0.95, 1.05, 0.98, 1.27,
  1.08, 1.02, 1.10, 1.05, 1.12, 1.08, 1.15, 1.10, 1.18, 1.12,
  1.22, 1.15, 1.25, 1.18, 1.28, 1.20, 1.30, 1.22, 1.35, 1.25,
  1.32, 1.28, 1.38, 1.30, 1.40, 1.35, 1.45, 1.38, 1.42, 1.50,
  1.40, 1.48, 1.52, 1.45, 1.55, 1.50, 1.58, 1.52, 1.60, 1.55,
  1.62, 1.58, 1.68, 1.60, 1.72, 1.65, 1.92, 1.70, 1.75, 1.68,
  1.78, 1.72, 1.85, 1.76, 1.88, 1.82, 1.90, 1.86, 1.75, 1.28,
  2.00, 1.95, 1.85, 2.20, 1.98, 1.82, 1.97, 1.92, 2.30, 2.32,
  1.95, 1.85, 2.20, 2.15, 2.18, 2.60, 2.47, 2.08, 2.26, 2.10,
  1.90, 2.58, 2.25, 2.40, 2.20, 2.42, 2.28, 2.46,
  0.28, 0.14, 0.32, 0.24, 0.40, 0.30, 0.46, 0.36, 0.52, 0.44,
  0.60, 0.50, 0.68, 0.56, 0.74, 0.62, 0.80, 0.68, 0.86, 0.74,
  0.92, 0.78, 0.98, 0.84, 1.02, 0.88, 1.08, 0.92, 1.12, 0.96,
  1.18, 1.02, 1.22, 1.06, 1.28, 1.10, 1.34, 1.14, 1.38, 1.20,
  1.44, 1.24, 1.48, 1.28, 1.52, 1.32, 1.58, 1.36, 1.62, 1.42,
  1.70, 1.46, 1.76, 1.50, 1.82, 1.56, 1.80, 1.62, 1.84, 1.70,
  0.66, 0.72, 0.92, 0.98, 1.06, 1.16, 1.26, 1.34, 1.42, 1.52,
  1.60, 1.68
];
// fitted lines (end points) and R²
const fitX3FLDD = [0.14, 2.0];
const fitY3FLDD = [0.0, 2.07];
const fitXFLDD = [0.10, 2.0];
const fitYFLDD = [0.01, 2.26];
const fitXSFMD = [0.09, 2.0];
const fitYSFMD = [0.07, 2.46];
const r2D = ['R² = 0.88', 'R² = 0.89', 'R² = 0.95'];

// axis ticks
const xTicksA = [6, 9, 12, 15, 18];
const xLabelsA = ['06:00', '09:00', '12:00', '15:00', '18:00'];
const yTicksA = [0, 0.4, 0.8, 1.2, 1.6];
const yLabelsA = ['0.0', '0.4', '0.8', '1.2', '1.6'];
const xTicksB = [-0.1, 0.3, 0.7, 1.1];
const xLabelsB = ['\u22120.1', '0.3', '0.7', '1.1'];
const yTicksB = [0, 0.4, 0.8, 1.2];
const yLabelsB = ['0.0', '0.4', '0.8', '1.2'];
const xTicksC = [9, 11, 13, 15, 17];
const xLabelsC = ['09:00', '11:00', '13:00', '15:00', '17:00'];
const yTicksC = [0, 1, 2, 3];
const yLabelsC = ['0', '1', '2', '3'];
const xTicksD = [0, 0.5, 1.0, 1.5, 2.0, 2.5];
const xLabelsD = ['0.0', '0.5', '1.0', '1.5', '2.0', '2.5'];
const yTicksD = [0, 1, 2, 3];
const yLabelsD = ['0', '1', '2', '3'];

const FONT = "'Liberation Serif', 'Times New Roman', serif";
const COL_DOAS = 'rgba(141, 191, 111, 0.78)';
const COL_3FLD = 'rgba(38, 115, 188, 0.8)';
const COL_FLD = 'rgba(250, 178, 152, 0.82)';
const COL_SFM = 'rgba(225, 38, 34, 0.8)';
const LINE_3FLD = '#2e7cc0';
const LINE_FLD = '#e8827e';
const LINE_SFM = '#e6b12c';
const Y_TITLE = 'SIF (mW/m\u00b2/nm/sr)';
const DOT = 16;

function pts(xs, ys) {
  return xs.map((x, i) => ({ x: x, y: ys[i] }));
}

function steps(from, to, step) {
  const out = [];
  for (let v = from; v <= to + 1e-9; v += step) out.push(+v.toFixed(4));
  return out;
}

function dots(label, xs, ys, color, order) {
  return {
    label: label, data: pts(xs, ys), order: order,
    backgroundColor: color, borderColor: color, borderWidth: 0,
    pointRadius: DOT, pointHoverRadius: DOT, pointStyle: 'circle'
  };
}

function fitLine(label, xs, ys, color) {
  return {
    label: label, data: pts(xs, ys), order: 0, showLine: true,
    borderColor: color, borderWidth: 8, pointRadius: 0, pointHoverRadius: 0, fill: false
  };
}

function axis(min, max, ticks, labels, size, pad, title, isX) {
  return {
    type: 'linear', min: min, max: max,
    afterBuildTicks: (s) => { s.ticks = ticks.map((v) => ({ value: v })); },
    afterFit: (s) => { if (isX) s.height = size; else s.width = size; },
    grid: { display: false, drawTicks: false },
    border: { display: false },
    ticks: {
      color: '#000', font: { family: FONT, size: 84 }, padding: pad,
      maxRotation: 0, minRotation: 0, autoSkip: false,
      callback: (v, i) => labels[i]
    },
    title: {
      display: !!title, text: title || '', color: '#000', padding: 0,
      font: { family: FONT, size: isX ? 112 : 115, lineHeight: 1 }
    }
  };
}

// box, inward ticks (major longer), panel tag and legend
function framePlugin(p) {
  return {
    id: 'frame',
    afterDraw(chart) {
      const ctx = chart.ctx;
      const a = chart.chartArea;
      const sx = chart.scales.x;
      const sy = chart.scales.y;
      ctx.save();
      ctx.strokeStyle = '#000';
      ctx.lineWidth = 4;
      ctx.beginPath();
      p.xMinor.forEach((v) => {
        const px = sx.getPixelForValue(v);
        const len = p.xTicks.includes(v) ? 23 : 13;
        ctx.moveTo(px, a.bottom);
        ctx.lineTo(px, a.bottom - len);
      });
      p.yMinor.forEach((v) => {
        const py = sy.getPixelForValue(v);
        const len = p.yTicks.includes(v) ? 23 : 13;
        ctx.moveTo(a.left, py);
        ctx.lineTo(a.left + len, py);
      });
      ctx.stroke();
      ctx.lineWidth = 5;
      ctx.strokeRect(a.left, a.top, a.right - a.left, a.bottom - a.top);

      ctx.fillStyle = '#000';
      ctx.textAlign = 'left';
      ctx.textBaseline = 'middle';
      ctx.font = '108px ' + FONT;
      ctx.fillText(p.tag, p.tagX, p.tagY);

      ctx.font = '74px ' + FONT;
      p.legend.forEach((item) => {
        if (item.line) {
          ctx.strokeStyle = item.color;
          ctx.lineWidth = 8;
          ctx.beginPath();
          ctx.moveTo(item.x0, item.y);
          ctx.lineTo(item.x1, item.y);
          ctx.stroke();
        } else {
          ctx.fillStyle = item.color;
          ctx.beginPath();
          ctx.arc(item.x0, item.y, DOT, 0, Math.PI * 2);
          ctx.fill();
        }
        ctx.fillStyle = '#000';
        ctx.fillText(item.text, item.tx, item.y);
      });
      ctx.restore();
    }
  };
}

function buildChart(id, p) {
  return new Chart(document.getElementById(id), {
    type: 'scatter',
    data: { datasets: p.datasets },
    options: {
      responsive: true,
      maintainAspectRatio: false,
      animation: false,
      devicePixelRatio: 1,
      events: [],
      layout: { padding: p.padding },
      plugins: { legend: { display: false }, tooltip: { enabled: false } },
      scales: {
        x: axis(p.xMin, p.xMax, p.xTicks, p.xLabels, p.xSize, p.xPad, p.xTitle, true),
        y: axis(p.yMin, p.yMax, p.yTicks, p.yLabels, p.ySize, 20, Y_TITLE, false)
      }
    },
    plugins: [framePlugin(p)]
  });
}

// (a)
buildChart('chart-a', {
  datasets: [
    dots('DOAS', timeA, doasA, COL_DOAS, 4),
    dots('3FLD', timeA, fld3A, COL_3FLD, 3),
    dots('FLD', timeA, fldA, COL_FLD, 2),
    dots('SFM', timeA, sfmA, COL_SFM, 1)
  ],
  padding: { left: 38, top: 50, right: 69, bottom: 10 },
  xMin: 6, xMax: 20, xTicks: xTicksA, xLabels: xLabelsA, xSize: 140, xPad: 20, xTitle: null,
  yMin: -0.2, yMax: 1.8, yTicks: yTicksA, yLabels: yLabelsA, ySize: 252,
  xMinor: steps(6, 19.5, 1.5), yMinor: steps(-0.2, 1.6, 0.2),
  tag: '(a)', tagX: 332, tagY: 155,
  legend: [
    { color: COL_DOAS, x0: 558, y: 164, tx: 661, text: 'DOAS' },
    { color: COL_3FLD, x0: 558, y: 257, tx: 661, text: '3FLD' },
    { color: COL_FLD, x0: 558, y: 349, tx: 661, text: 'FLD' },
    { color: COL_SFM, x0: 558, y: 441, tx: 661, text: 'SFM' }
  ]
});

// (b)
buildChart('chart-b', {
  datasets: [
    dots('3FLD', doasB, fld3B, COL_3FLD, 3),
    dots('FLD', doasB, fldB, COL_FLD, 2),
    dots('SFM', doasB, sfmB, COL_SFM, 1),
    fitLine('fit 3FLD', fitXB, fit3FLDB, LINE_3FLD),
    fitLine('fit FLD', fitXB, fitFLDB, LINE_FLD),
    fitLine('fit SFM', fitXB, fitSFMB, LINE_SFM)
  ],
  padding: { left: 20, top: 50, right: 84, bottom: 10 },
  xMin: -0.1, xMax: 1.4, xTicks: xTicksB, xLabels: xLabelsB, xSize: 140, xPad: 16, xTitle: null,
  yMin: -0.1, yMax: 1.4, yTicks: yTicksB, yLabels: yLabelsB, ySize: 248,
  xMinor: steps(-0.1, 1.3, 0.2), yMinor: steps(0, 1.4, 0.2),
  tag: '(b)', tagX: 315, tagY: 152,
  legend: [
    { color: COL_3FLD, x0: 488, y: 125, tx: 590, text: '3FLD' },
    { color: COL_FLD, x0: 488, y: 215, tx: 590, text: 'FLD' },
    { color: COL_SFM, x0: 488, y: 307, tx: 590, text: 'SFM' },
    { line: true, color: LINE_3FLD, x0: 401, x1: 572, y: 408, tx: 590, text: r2B[0] },
    { line: true, color: LINE_FLD, x0: 401, x1: 572, y: 508, tx: 590, text: r2B[1] },
    { line: true, color: LINE_SFM, x0: 401, x1: 572, y: 612, tx: 590, text: r2B[2] }
  ]
});

// (c)
buildChart('chart-c', {
  datasets: [
    dots('DOAS', timeC, doasC, COL_DOAS, 4),
    dots('3FLD', timeC, fld3C, COL_3FLD, 3),
    dots('FLD', timeC, fldC, COL_FLD, 2),
    dots('SFM', timeC, sfmC, COL_SFM, 1)
  ],
  padding: { left: 82, top: 79, right: 182, bottom: 35 },
  xMin: 9, xMax: 17, xTicks: xTicksC, xLabels: xLabelsC, xSize: 266, xPad: 14, xTitle: 'TIME',
  yMin: -0.25, yMax: 3.25, yTicks: yTicksC, yLabels: yLabelsC, ySize: 186,
  xMinor: steps(9, 17, 1), yMinor: steps(0, 3, 0.5),
  tag: '(c)', tagX: 314, tagY: 180,
  legend: [
    { color: COL_DOAS, x0: 1408, y: 146, tx: 1514, text: 'DOAS' },
    { color: COL_3FLD, x0: 1408, y: 241, tx: 1514, text: '3FLD' },
    { color: COL_FLD, x0: 1408, y: 333, tx: 1514, text: 'FLD' },
    { color: COL_SFM, x0: 1408, y: 426, tx: 1514, text: 'SFM' }
  ]
});

// (d)
buildChart('chart-d', {
  datasets: [
    dots('3FLD', doasD, fld3D, COL_3FLD, 3),
    dots('FLD', doasD, fldD, COL_FLD, 2),
    dots('SFM', doasD, sfmD, COL_SFM, 1),
    fitLine('fit 3FLD', fitX3FLDD, fitY3FLDD, LINE_3FLD),
    fitLine('fit FLD', fitXFLDD, fitYFLDD, LINE_FLD),
    fitLine('fit SFM', fitXSFMD, fitYSFMD, LINE_SFM)
  ],
  padding: { left: 73, top: 79, right: 82, bottom: 25 },
  xMin: 0, xMax: 2.5, xTicks: xTicksD, xLabels: xLabelsD, xSize: 276, xPad: 12,
  xTitle: 'DOAS  SIF (mW/m\u00b2/nm/sr)',
  yMin: 0, yMax: 3.2, yTicks: yTicksD, yLabels: yLabelsD, ySize: 182,
  xMinor: steps(0, 2.5, 0.25), yMinor: steps(0, 3, 0.5),
  tag: '(d)', tagX: 306, tagY: 185,
  legend: [
    { color: COL_3FLD, x0: 485, y: 156, tx: 587, text: '3FLD' },
    { color: COL_FLD, x0: 485, y: 250, tx: 587, text: 'FLD' },
    { color: COL_SFM, x0: 485, y: 344, tx: 587, text: 'SFM' },
    { line: true, color: LINE_3FLD, x0: 397, x1: 570, y: 445, tx: 587, text: r2D[0] },
    { line: true, color: LINE_FLD, x0: 397, x1: 570, y: 547, tx: 587, text: r2D[1] },
    { line: true, color: LINE_SFM, x0: 397, x1: 570, y: 650, tx: 587, text: r2D[2] }
  ]
});
</script>
</body>
</html>
